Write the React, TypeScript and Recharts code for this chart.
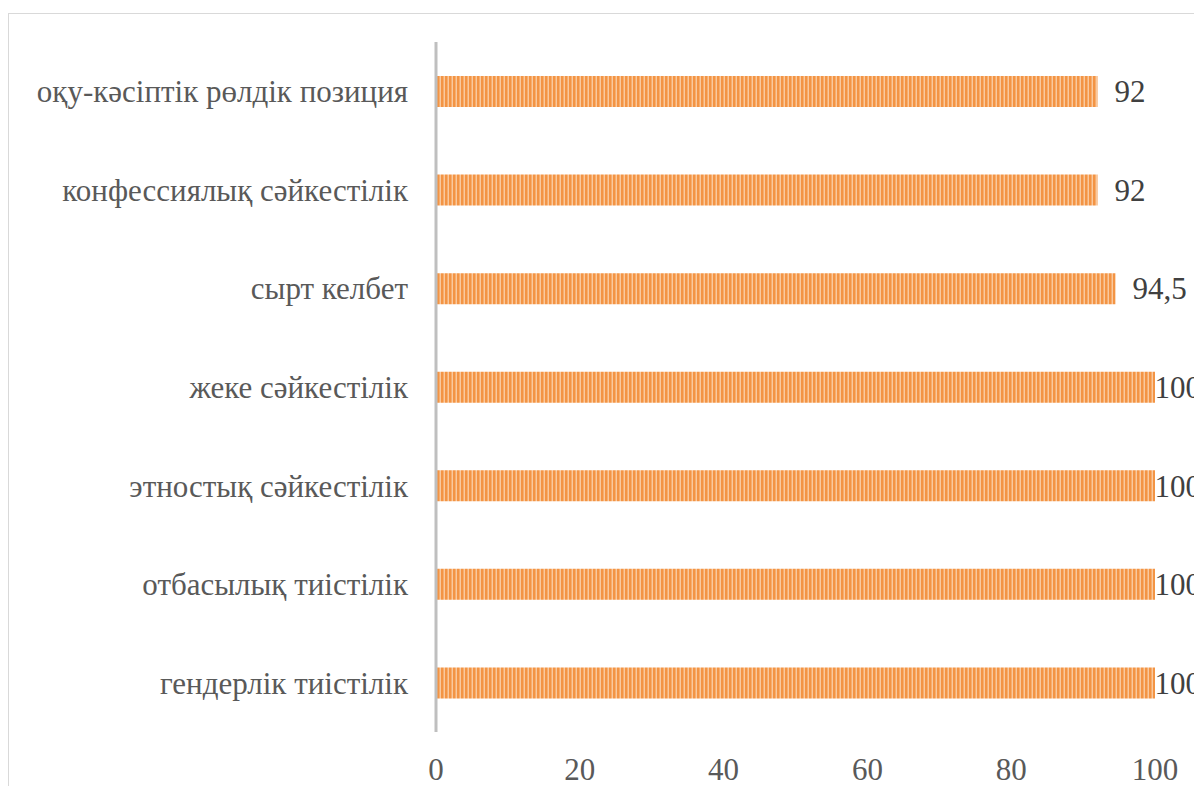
import { BarChart, Bar, XAxis, YAxis, LabelList } from "recharts"

const categories = [
  "оқу-кәсіптік рөлдік позиция",
  "конфессиялық сәйкестілік",
  "сырт келбет",
  "жеке сәйкестілік",
  "этностық сәйкестілік",
  "отбасылық тиістілік",
  "гендерлік тиістілік",
]
const values = [92, 92, 94.5, 100, 100, 100, 100]
const xTicks = [0, 20, 40, 60, 80, 100]

const data = categories.map((name, i) => ({ name, value: values[i] }))

const W = 1193
const H = 777
const FONT = "Liberation Serif"
const FS = 31

const fmt = (v: number) => String(v).replace(".", ",")

// Excel-style outside-end label, pushed back inside when it would run off the chart
const BarLabel = (props: any) => {
  const { x, y, width, height, value } = props
  const text = fmt(value)
  const tw = text.split("").reduce((s, c) => s + (c === "," ? 0.25 : 0.5), 0) * FS
  let lx = x + width + 17
  if (lx + tw > W - 1) lx = W - 1 - tw
  return (
    <text x={lx} y={y + height / 2} dy="0.35em" fill="#404040" fontSize={FS} style={{ fontFamily: FONT }}>
      {text}
    </text>
  )
}

export default function App() {
  return (
    <div style={{ position: "relative", top: 5 }}>
      <svg width={0} height={0} style={{ position: "absolute" }}>
        <defs>
          <pattern id="stripes" width={4} height={4} patternUnits="userSpaceOnUse">
            <rect x={0} y={0} width={4} height={4} fill="#F7AE6E" />
            <rect x={0} y={0} width={2} height={4} fill="#F39444" />
            <rect x={3} y={0} width={0.8} height={4} fill="#FAD0AC" />
          </pattern>
        </defs>
      </svg>
      <div
        style={{
          width: 1194,
          height: 778,
          boxSizing: "border-box",
          borderTop: "1px solid #d9d9d9",
          borderLeft: "1px solid #d9d9d9",
        }}
      >
        <BarChart
          width={W}
          height={H}
          data={data}
          layout="vertical"
          margin={{ top: 28, right: 47, left: 0, bottom: 0 }}
        >
          <XAxis
            type="number"
            domain={[0, 100]}
            ticks={xTicks}
            axisLine={false}
            tickLine={false}
            tickSize={0}
            tickMargin={26}
            height={59}
            tick={{ fill: "#595959", fontSize: FS, fontFamily: FONT }}
          />
          <YAxis
            type="category"
            dataKey="name"
            width={427}
            tickLine={false}
            tickSize={0}
            tickMargin={28}
            axisLine={{ stroke: "#bfbfbf", strokeWidth: 3 }}
            tick={{ fill: "#595959", fontSize: FS, fontFamily: FONT }}
          />
          <Bar dataKey="value" fill="url(#stripes)" barSize={31} isAnimationActive={false}>
            <LabelList dataKey="value" content={BarLabel} />
          </Bar>
        </BarChart>
      </div>
    </div>
  )
}
